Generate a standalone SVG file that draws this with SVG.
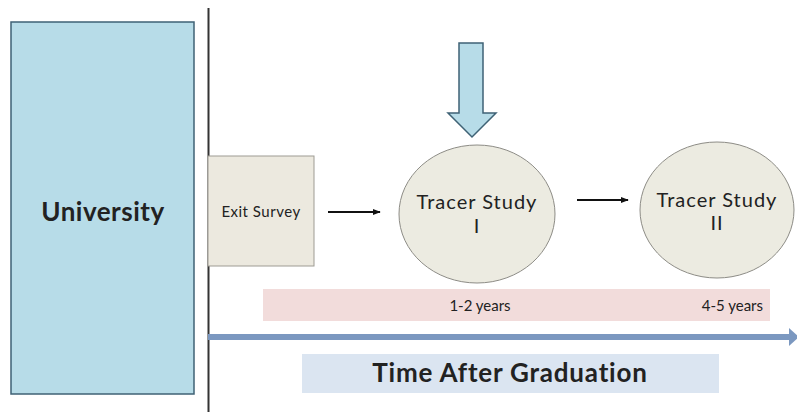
<svg xmlns="http://www.w3.org/2000/svg" width="797" height="412" viewBox="0 0 797 412">
<style>
text{font-family:Lato,"Open Sans","Liberation Sans",sans-serif;fill:#222;text-anchor:middle}
.oval{fill:#ecebe1;stroke:#8d8c86;stroke-width:1}
.ts{font-size:20px;letter-spacing:1px}
.yr{font-size:15px}
.conn{stroke:#111;stroke-width:2;fill:none;marker-end:url(#ah)}
</style>
<defs>
<marker id="ah" viewBox="0 0 10 10" refX="9" refY="5" markerWidth="4" markerHeight="4" orient="auto" markerUnits="strokeWidth">
<path d="M0,1 L10,5 L0,9 z" fill="#111"/>
</marker>
</defs>
<rect width="797" height="412" fill="#fff"/>
<g id="university">
<rect x="11" y="22" width="183" height="372" fill="#b7dce8" stroke="#3f6275" stroke-width="1.5"/>
<text x="103" y="221" font-size="26" font-weight="bold" letter-spacing="0.5">University</text>
</g>
<g id="divider">
<line x1="208.5" y1="8" x2="208.5" y2="412" stroke="#333" stroke-width="2"/>
</g>
<g id="exit-survey">
<rect x="208" y="156" width="106" height="110" fill="#ece9df" stroke="#9e9b93" stroke-width="1"/>
<text x="261" y="217" font-size="15" letter-spacing="0.5">Exit Survey</text>
</g>
<g id="tracer-1">
<ellipse class="oval" cx="477" cy="214" rx="78" ry="69"/>
<text class="ts" x="477" y="209">Tracer Study</text>
<text class="ts" x="477" y="233">I</text>
</g>
<g id="tracer-2">
<ellipse class="oval" cx="717" cy="210" rx="77" ry="68"/>
<text class="ts" x="717" y="207">Tracer Study</text>
<text class="ts" x="717" y="230">II</text>
</g>
<g id="input-arrow">
<path d="M459,43 H483 V113 H496 L472,137 L448,113 H459 Z" fill="#b7dce8" stroke="#3f6275" stroke-width="1.5"/>
</g>
<g id="period-bar">
<rect x="263" y="289" width="507" height="32" fill="#f2dcdb"/>
<text class="yr" x="480" y="311">1-2 years</text>
<text class="yr" x="763" y="311" style="text-anchor:end">4-5 years</text>
</g>
<g id="timeline">
<line x1="208" y1="337" x2="790" y2="337" stroke="#7b98c0" stroke-width="6"/>
<path d="M789,328 L799,337 L789,346 Z" fill="#7b98c0"/>
</g>
<g id="time-label">
<rect x="302" y="354" width="417" height="39" fill="#dbe5f1"/>
<text x="510" y="382" font-size="26" font-weight="bold" letter-spacing="0.8">Time After Graduation</text>
</g>
<g id="connectors">
<line class="conn" x1="328" y1="212" x2="380" y2="212"/>
<line class="conn" x1="577" y1="200" x2="628" y2="200"/>
</g>
</svg>
